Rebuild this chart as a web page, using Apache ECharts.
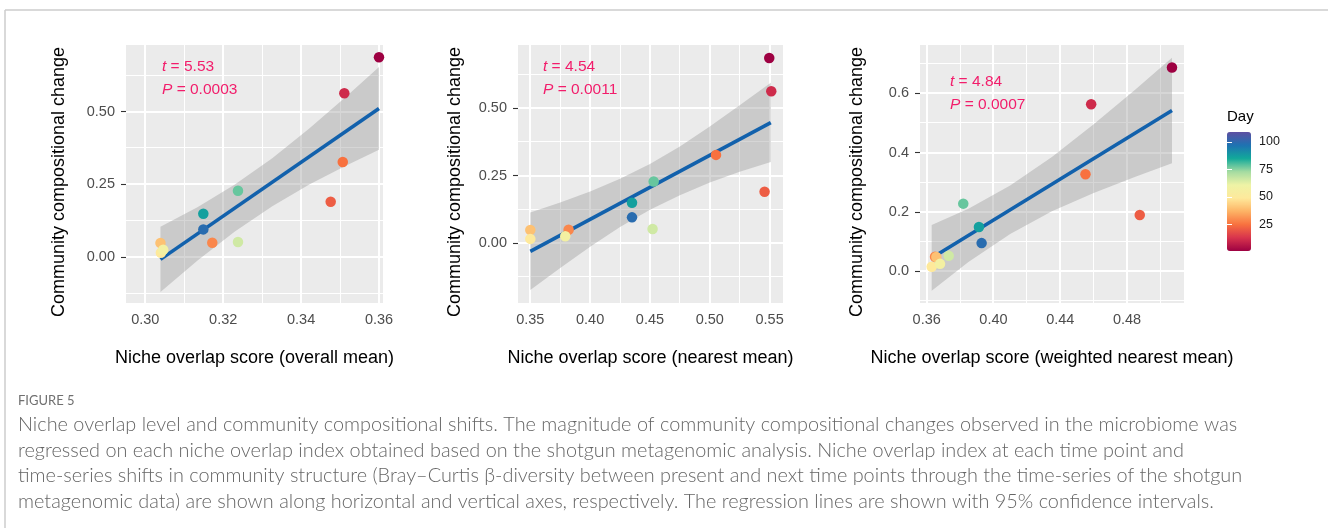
<!DOCTYPE html>
<html><head><meta charset="utf-8">
<script src="https://cdn.jsdelivr.net/npm/echarts@6/dist/echarts.min.js"></script>
<style>html,body{margin:0;padding:0;background:#fff}#c{width:1328px;height:528px}</style>
</head><body><div id="c"></div>
<script>
// ---- data ----
const days = [1, 11, 21, 25, 29, 40, 49, 57, 66, 78, 87, 99];
const change = [0.687, 0.563, 0.190, 0.327, 0.049, 0.048, 0.015, 0.025, 0.052, 0.228, 0.149, 0.095];
const overlapOverall  = [0.3600, 0.3511, 0.3476, 0.3507, 0.3172, 0.3039, 0.3040, 0.3046, 0.3238, 0.3238, 0.3149, 0.3149];
const overlapNearest  = [0.5497, 0.5514, 0.5458, 0.5052, 0.3820, 0.3500, 0.3500, 0.3792, 0.4522, 0.4531, 0.4350, 0.4350];
const overlapWeighted = [0.5069, 0.4585, 0.4876, 0.4551, 0.3650, 0.3658, 0.3630, 0.3680, 0.3732, 0.3819, 0.3913, 0.3929];

// regression lines (end points) and 95% CI bands
const fitOverallX = [0.3039, 0.3600];
const fitOverallY = [-0.008, 0.511];
const bandOverallX  = [0.3039, 0.3135, 0.3230, 0.3326, 0.3421, 0.3516, 0.3600];
const bandOverallLo = [-0.120, -0.011, 0.088, 0.175, 0.249, 0.315, 0.369];
const bandOverallHi = [0.104, 0.172, 0.249, 0.340, 0.442, 0.552, 0.653];

const fitNearestX = [0.350, 0.551];
const fitNearestY = [-0.031, 0.447];
const bandNearestX  = [0.350, 0.375, 0.400, 0.425, 0.450, 0.475, 0.500, 0.525, 0.551];
const bandNearestLo = [-0.175, -0.093, -0.014, 0.059, 0.123, 0.177, 0.224, 0.264, 0.301];
const bandNearestHi = [0.113, 0.150, 0.191, 0.238, 0.293, 0.358, 0.432, 0.511, 0.595];

const fitWeightedX = [0.363, 0.5069];
const fitWeightedY = [0.045, 0.542];
const bandWeightedX  = [0.363, 0.385, 0.410, 0.435, 0.460, 0.485, 0.5069];
const bandWeightedLo = [-0.066, 0.031, 0.126, 0.202, 0.264, 0.319, 0.364];
const bandWeightedHi = [0.156, 0.211, 0.289, 0.385, 0.496, 0.613, 0.720];

// tick labels
const xTicksOverall = [0.30, 0.32, 0.34, 0.36];
const xMinorOverall = [0.31, 0.33, 0.35];
const xTicksNearest = [0.35, 0.40, 0.45, 0.50, 0.55];
const xMinorNearest = [0.375, 0.425, 0.475, 0.525];
const xTicksWeighted = [0.36, 0.40, 0.44, 0.48];
const xMinorWeighted = [0.38, 0.42, 0.46, 0.50];
const yTicksChange = [0, 0.25, 0.50];
const yMinorChange = [-0.125, 0.125, 0.375, 0.625];
const yTicksWeighted = [0, 0.2, 0.4, 0.6];
const yMinorWeighted = [-0.1, 0.1, 0.3, 0.5, 0.7];
const dayTicks = [25, 50, 75, 100];

const statT = ['5.53', '4.54', '4.84'];
const statP = ['0.0003', '0.0011', '0.0007'];
const xTitles = ['Niche overlap score (overall mean)', 'Niche overlap score (nearest mean)', 'Niche overlap score (weighted nearest mean)'];
const yTitle = 'Community compositional change';
const legendTitle = 'Day';
const captionHead = 'FIGURE 5';
const captionLines = [
 'Niche overlap level and community compositional shifts. The magnitude of community compositional changes observed in the microbiome was',
 'regressed on each niche overlap index obtained based on the shotgun metagenomic analysis. Niche overlap index at each time point and',
 'time-series shifts in community structure (Bray\u2013Curtis \u03b2-diversity between present and next time points through the time-series of the shotgun',
 'metagenomic data) are shown along horizontal and vertical axes, respectively. The regression lines are shown with 95% confidence intervals.'
];
const dayColors = ['#9E0142','#D8344D','#F8713F','#FDB365','#FEE99B','#EEF3A6','#A4DBA1','#12A99A','#1E72B2','#5E4FA2'];

// ---- layout ----
const FONT = 'Liberation Sans, Arial, Helvetica, sans-serif';
const panels = [
 {xs: overlapOverall, fitX: fitOverallX, fitY: fitOverallY, bx: bandOverallX, lo: bandOverallLo, hi: bandOverallHi,
  xT: xTicksOverall, xM: xMinorOverall, yT: yTicksChange, yM: yMinorChange,
  left: 126, width: 257, xMin: 0.29505, xMax: 0.36103, yMin: -0.158, yMax: 0.729, xDec: 2, yDec: 2, yGap: 58, ann: [162, 55]},
 {xs: overlapNearest, fitX: fitNearestX, fitY: fitNearestY, bx: bandNearestX, lo: bandNearestLo, hi: bandNearestHi,
  xT: xTicksNearest, xM: xMinorNearest, yT: yTicksChange, yM: yMinorChange,
  left: 518, width: 265, xMin: 0.3397, xMax: 0.5612, yMin: -0.223, yMax: 0.735, xDec: 2, yDec: 2, yGap: 54, ann: [543, 55]},
 {xs: overlapWeighted, fitX: fitWeightedX, fitY: fitWeightedY, bx: bandWeightedX, lo: bandWeightedLo, hi: bandWeightedHi,
  xT: xTicksWeighted, xM: xMinorWeighted, yT: yTicksWeighted, yM: yMinorWeighted,
  left: 920, width: 264, xMin: 0.356, xMax: 0.5141, yMin: -0.107, yMax: 0.763, xDec: 2, yDec: 1, yGap: 54, ann: [950, 70]}
];
const TOP = 45, H = 258;
const GRID_COLOR = '#FFFFFF';

const grid = [], xAxis = [], yAxis = [], series = [], title = [];
const scatterIdx = [];
panels.forEach((p, i) => {
  grid.push({left: p.left, top: TOP, width: p.width, height: H, show: false, containLabel: false});
  xAxis.push({
    type: 'value', gridIndex: i, min: p.xMin, max: p.xMax, position: 'bottom',
    axisLine: {show: false}, splitLine: {show: false},
    axisTick: {show: true, length: 5, customValues: p.xT, lineStyle: {color: '#333', width: 1.1}},
    axisLabel: {customValues: p.xT, margin: 9, color: '#4D4D4D', fontSize: 14.5, fontFamily: FONT, formatter: v => v.toFixed(p.xDec)},
    name: xTitles[i], nameLocation: 'middle', nameGap: 46,
    nameTextStyle: {color: '#000', fontSize: 18, fontFamily: FONT}
  });
  yAxis.push({
    type: 'value', gridIndex: i, min: p.yMin, max: p.yMax, position: 'left',
    axisLine: {show: false}, splitLine: {show: false},
    axisTick: {show: true, length: 5, customValues: p.yT, lineStyle: {color: '#333', width: 1.1}},
    axisLabel: {customValues: p.yT, margin: 11, color: '#4D4D4D', fontSize: 14.5, fontFamily: FONT, formatter: v => v.toFixed(p.yDec)},
    name: yTitle, nameLocation: 'middle', nameGap: p.yGap, nameRotate: 90,
    nameTextStyle: {color: '#000', fontSize: 18, fontFamily: FONT, padding: [0, 16, 0, 0]}
  });
  // panel background
  series.push({
    type: 'custom', xAxisIndex: i, yAxisIndex: i, z: 1, silent: true, clip: false,
    data: [[p.xMin, p.yMin]],
    renderItem: (params, api) => {
      const c0 = api.coord([p.xMin, p.yMax]), c1 = api.coord([p.xMax, p.yMin]);
      return {type: 'rect', shape: {x: c0[0], y: c0[1], width: c1[0] - c0[0], height: c1[1] - c0[1]}, style: {fill: '#EBEBEB'}};
    }
  });
  // vertical grid lines
  const vData = p.xM.map(v => [v, p.yMin, 1]).concat(p.xT.map(v => [v, p.yMin, 2]));
  series.push({
    type: 'custom', xAxisIndex: i, yAxisIndex: i, z: 2, silent: true, clip: false,
    data: vData,
    renderItem: (params, api) => {
      const v = api.value(0), w = api.value(2);
      const a = api.coord([v, p.yMax]), b = api.coord([v, p.yMin]);
      return {type: 'rect', shape: {x: Math.round(a[0] - w / 2), y: a[1], width: w, height: b[1] - a[1]}, style: {fill: GRID_COLOR}};
    }
  });
  // horizontal grid lines
  const hData = p.yM.map(v => [p.xMin, v, 1]).concat(p.yT.map(v => [p.xMin, v, 2]));
  series.push({
    type: 'custom', xAxisIndex: i, yAxisIndex: i, z: 2, silent: true, clip: false,
    data: hData,
    renderItem: (params, api) => {
      const v = api.value(1), w = api.value(2);
      const a = api.coord([p.xMin, v]), b = api.coord([p.xMax, v]);
      return {type: 'rect', shape: {x: a[0], y: Math.round(a[1] - w / 2), width: b[0] - a[0], height: w}, style: {fill: GRID_COLOR}};
    }
  });
  // CI ribbon
  series.push({
    type: 'custom', xAxisIndex: i, yAxisIndex: i, z: 3, silent: true, clip: false,
    data: [[p.bx[0], p.lo[0]]],
    renderItem: (params, api) => {
      const pts = [];
      for (let k = 0; k < p.bx.length; k++) pts.push(api.coord([p.bx[k], p.hi[k]]));
      for (let k = p.bx.length - 1; k >= 0; k--) pts.push(api.coord([p.bx[k], p.lo[k]]));
      return {type: 'polygon', shape: {points: pts}, style: {fill: 'rgba(153,153,153,0.4)'}};
    }
  });
  // regression line
  series.push({
    type: 'line', xAxisIndex: i, yAxisIndex: i, z: 4, silent: true,
    data: p.fitX.map((x, k) => [x, p.fitY[k]]),
    showSymbol: false, symbol: 'none',
    lineStyle: {color: '#1261AC', width: 3.6, cap: 'butt'}
  });
  scatterIdx.push(series.length);
  series.push({
    type: 'scatter', xAxisIndex: i, yAxisIndex: i, z: 5, silent: true,
    symbolSize: 10.5,
    data: p.xs.map((x, k) => [x, change[k], days[k]]),
    itemStyle: {opacity: 1}
  });
  title.push({
    left: p.ann[0], top: p.ann[1], padding: 0,
    text: '{i|t} = ' + statT[i] + '\n{i|P} = ' + statP[i],
    textStyle: {color: '#F21D6B', fontSize: 15.5, fontWeight: 'normal', fontFamily: FONT, lineHeight: 23.3,
      rich: {i: {fontStyle: 'italic', color: '#F21D6B', fontSize: 15.5, fontFamily: FONT, lineHeight: 23.3}}}
  });
});

// colorbar guide axes (grid 3)
const CB = {left: 1227, top: 132, width: 24, height: 119, min: 1, max: 109};
grid.push({left: CB.left, top: CB.top, width: CB.width, height: CB.height, show: false});
xAxis.push({type: 'value', gridIndex: 3, show: false, min: 0, max: 1});
yAxis.push({type: 'value', gridIndex: 3, min: CB.min, max: CB.max, position: 'right', z: 10,
  axisLine: {show: false}, splitLine: {show: false},
  axisTick: {show: true, inside: true, length: 5, customValues: dayTicks, lineStyle: {color: '#FFFFFF', width: 1}},
  axisLabel: {customValues: dayTicks, margin: 8, color: '#1A1A1A', fontSize: 12.5, fontFamily: FONT}});
yAxis.push({type: 'value', gridIndex: 3, min: CB.min, max: CB.max, position: 'left', z: 10,
  axisLine: {show: false}, splitLine: {show: false}, axisLabel: {show: false},
  axisTick: {show: true, inside: true, length: 5, customValues: dayTicks, lineStyle: {color: '#FFFFFF', width: 1}}});

// caption font fitting
const CAP_FONT = 'Lato, "Open Sans", sans-serif';
const cv = document.createElement('canvas').getContext('2d');
cv.font = '300 100px ' + CAP_FONT;
const capSize = 100 * 1220 / cv.measureText(captionLines[0]).width;

const graphic = [
  {type: 'line', shape: {x1: 5, y1: 10, x2: 1328, y2: 10}, style: {stroke: '#CCCCCC', lineWidth: 1.5}, silent: true},
  {type: 'line', shape: {x1: 5, y1: 10, x2: 5, y2: 528}, style: {stroke: '#CCCCCC', lineWidth: 1.5}, silent: true},
  {type: 'text', x: 1227, y: 117, silent: true, style: {text: legendTitle, fill: '#000', fontSize: 15, fontFamily: FONT, verticalAlign: 'middle'}},
  {type: 'text', x: 18, y: 401, silent: true, style: {text: captionHead, fill: '#707070', fontSize: 13, fontFamily: CAP_FONT, verticalAlign: 'middle'}}
];
const capY = [425, 451, 476, 502];
captionLines.forEach((t, k) => graphic.push({type: 'text', x: 18, y: capY[k], silent: true,
  style: {text: t, fill: '#666666', fontSize: capSize, fontWeight: 300, fontFamily: CAP_FONT, verticalAlign: 'middle'}}));

const chart = echarts.init(document.getElementById('c'), null, {renderer: 'canvas'});
chart.setOption({
  animation: false,
  backgroundColor: '#FFFFFF',
  title, grid, xAxis, yAxis, series, graphic,
  visualMap: [{
    type: 'continuous', min: CB.min, max: CB.max, dimension: 2, seriesIndex: scatterIdx,
    inRange: {color: dayColors}, left: CB.left, top: CB.top, itemWidth: CB.width, itemHeight: CB.height,
    calculable: false, text: null, showLabel: false, padding: 0, hoverLink: false, orient: 'vertical', z: 4
  }]
});
</script></body></html>
